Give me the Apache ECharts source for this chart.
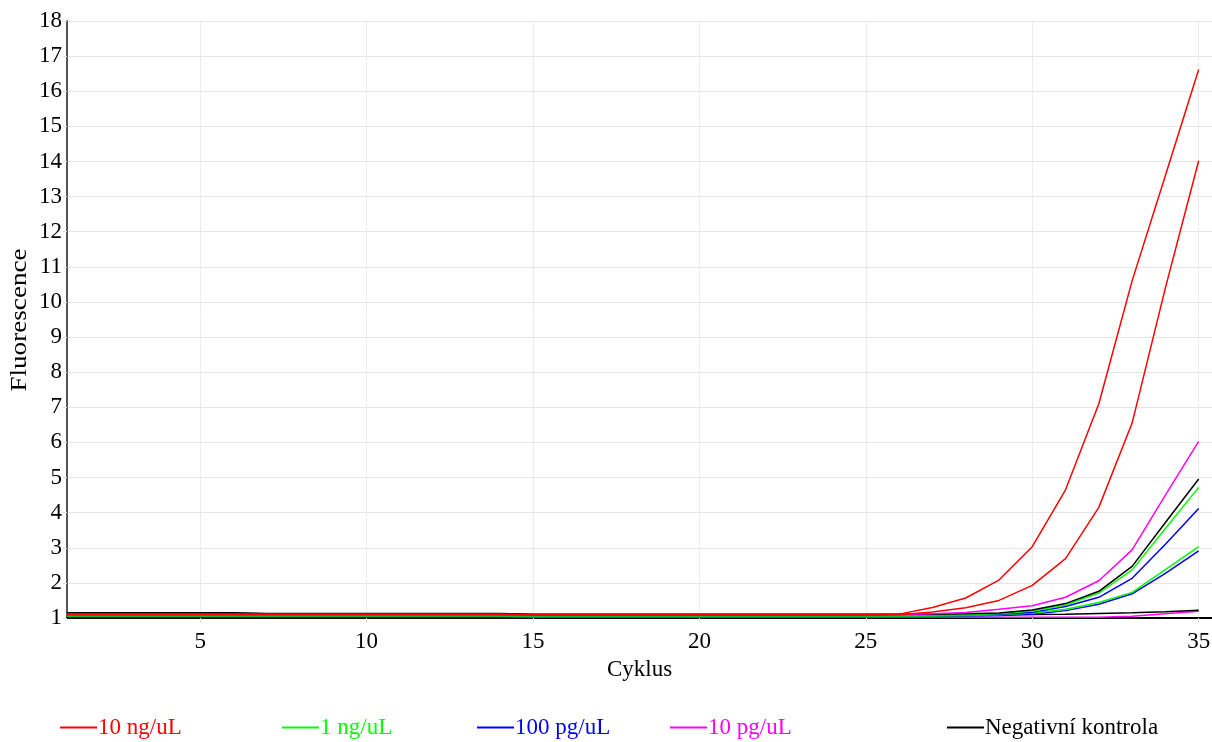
<!DOCTYPE html>
<html>
<head>
<meta charset="utf-8">
<script src="https://cdn.jsdelivr.net/npm/echarts@6/dist/echarts.min.js"></script>
<style>
  html, body { margin: 0; padding: 0; background: #fff; }
  #chart { width: 1212px; height: 742px; }
</style>
</head>
<body>
<div id="chart"></div>
<script>
// qPCR amplification curves: fluorescence per cycle, duplicate wells per sample
const cycles = [1,2,3,4,5,6,7,8,9,10,11,12,13,14,15,16,17,18,19,20,21,22,23,24,25,26,27,28,29,30,31,32,33,34,35];
const xTicks = [5, 10, 15, 20, 25, 30, 35];
const yTicks = [1,2,3,4,5,6,7,8,9,10,11,12,13,14,15,16,17,18];

const seriesNames = ['10 ng/uL', '1 ng/uL', '100 pg/uL', '10 pg/uL', 'Negativní kontrola'];
const seriesColors = ['#ff0000', '#00ff00', '#0000ff', '#ff00ff', '#000000'];

// 10 ng/uL
const red1 = [1.10,1.10,1.10,1.10,1.10,1.10,1.10,1.10,1.10,1.10,1.10,1.10,1.10,1.10,1.09,1.09,1.09,1.09,1.09,1.09,1.09,1.09,1.09,1.09,1.09,1.11,1.30,1.57,2.08,3.03,4.65,7.10,10.60,13.60,16.62];
const red2 = [1.09,1.09,1.09,1.09,1.09,1.09,1.09,1.09,1.09,1.09,1.09,1.09,1.09,1.09,1.08,1.08,1.08,1.08,1.08,1.08,1.08,1.08,1.08,1.08,1.08,1.09,1.17,1.29,1.50,1.93,2.69,4.15,6.55,10.40,14.02];
// 1 ng/uL
const green1 = [1.10,1.10,1.10,1.10,1.10,1.10,1.10,1.10,1.10,1.10,1.10,1.10,1.10,1.10,1.09,1.09,1.09,1.09,1.09,1.09,1.09,1.09,1.09,1.09,1.09,1.09,1.09,1.10,1.12,1.20,1.37,1.71,2.37,3.55,4.72];
const green2 = [1.06,1.06,1.06,1.06,1.06,1.06,1.06,1.06,1.06,1.06,1.06,1.06,1.06,1.06,1.06,1.06,1.06,1.06,1.06,1.06,1.06,1.06,1.06,1.06,1.06,1.06,1.06,1.07,1.09,1.14,1.25,1.44,1.73,2.38,3.03];
// 100 pg/uL
const blue1 = [1.14,1.14,1.14,1.14,1.14,1.13,1.12,1.12,1.12,1.12,1.12,1.12,1.12,1.12,1.10,1.10,1.10,1.10,1.10,1.10,1.10,1.10,1.10,1.10,1.10,1.10,1.10,1.10,1.11,1.16,1.33,1.59,2.13,3.10,4.12];
const blue2 = [1.05,1.05,1.05,1.05,1.05,1.05,1.05,1.05,1.05,1.05,1.05,1.05,1.05,1.05,1.05,1.05,1.05,1.05,1.05,1.05,1.05,1.05,1.05,1.05,1.05,1.05,1.05,1.06,1.07,1.11,1.21,1.39,1.69,2.27,2.91];
// 10 pg/uL
const magenta1 = [1.11,1.11,1.11,1.11,1.11,1.11,1.11,1.11,1.11,1.11,1.11,1.11,1.11,1.11,1.09,1.09,1.09,1.09,1.09,1.09,1.09,1.09,1.09,1.09,1.09,1.10,1.12,1.16,1.25,1.35,1.59,2.06,2.94,4.50,6.03];
const magenta2 = [1.04,1.04,1.04,1.04,1.04,1.04,1.04,1.04,1.04,1.04,1.04,1.04,1.04,1.04,1.03,1.03,1.03,1.03,1.03,1.03,1.03,1.03,1.03,1.03,1.03,1.03,1.03,1.02,1.02,1.02,1.02,1.02,1.05,1.12,1.19];
// Negativní kontrola
const black1 = [1.15,1.15,1.15,1.15,1.15,1.15,1.13,1.13,1.13,1.13,1.13,1.13,1.13,1.13,1.11,1.11,1.11,1.11,1.11,1.11,1.11,1.11,1.11,1.11,1.11,1.11,1.11,1.12,1.14,1.23,1.41,1.76,2.47,3.72,4.96];
const black2 = [1.07,1.07,1.07,1.07,1.07,1.07,1.07,1.07,1.07,1.07,1.07,1.07,1.07,1.07,1.07,1.07,1.07,1.07,1.07,1.07,1.07,1.07,1.07,1.07,1.07,1.07,1.08,1.08,1.09,1.10,1.11,1.13,1.15,1.18,1.22];

const curves = [
  { group: 3, values: magenta2 },
  { group: 4, values: black2 },
  { group: 2, values: blue2 },
  { group: 1, values: green2 },
  { group: 2, values: blue1 },
  { group: 1, values: green1 },
  { group: 4, values: black1 },
  { group: 3, values: magenta1 },
  { group: 0, values: red2 },
  { group: 0, values: red1 }
];

const FONT = '"Liberation Serif", "DejaVu Serif", serif';
const FS = 23;
const chart = echarts.init(document.getElementById('chart'), null, { renderer: 'canvas' });

const legendLefts = [60, 282, 477, 670, 947];
const legends = seriesNames.map((name, i) => ({
  data: [name],
  left: legendLefts[i],
  top: 716,
  padding: 0,
  icon: 'rect',
  itemWidth: 37,
  itemHeight: 2,
  selectedMode: false,
  textStyle: {
    fontFamily: FONT,
    fontSize: FS,
    color: seriesColors[i],
    padding: [0, 0, 0, -4]
  }
}));

chart.setOption({
  animation: false,
  backgroundColor: '#ffffff',
  grid: { left: 67, right: 0, top: 21, bottom: 124, containLabel: false, outerBoundsMode: 'none' },
  legend: legends,
  graphic: [{
    type: 'text',
    x: 20,
    y: 320,
    rotation: Math.PI / 2,
    scaleX: 1.18,
    style: {
      text: 'Fluorescence',
      fontFamily: FONT,
      fontSize: FS,
      fill: '#000',
      align: 'center',
      verticalAlign: 'middle'
    }
  }],
  xAxis: {
    type: 'value',
    min: 1,
    max: 35.4,
    name: 'Cyklus',
    nameLocation: 'middle',
    nameGap: 40,
    nameTextStyle: { fontFamily: FONT, fontSize: FS, color: '#000' },
    axisLine: { show: true, onZero: false, lineStyle: { color: '#000', width: 2 } },
    axisTick: { show: true, customValues: xTicks, length: 4, lineStyle: { color: '#dddddd' } },
    axisLabel: { customValues: xTicks, fontFamily: FONT, fontSize: FS, color: '#000', margin: 12 },
    splitLine: { show: true, lineStyle: { color: '#ececec', width: 1 } }
  },
  yAxis: {
    type: 'value',
    min: 1,
    max: 18,
    interval: 1,
    axisLine: { show: true, lineStyle: { color: '#555555', width: 2 } },
    axisTick: { show: true, length: 4, lineStyle: { color: '#dddddd' } },
    axisLabel: { fontFamily: FONT, fontSize: FS, color: '#000', margin: 5 },
    splitLine: { show: true, lineStyle: { color: '#e6e6e6', width: 1 } }
  },
  series: curves.map(c => ({
    name: seriesNames[c.group],
    type: 'line',
    data: cycles.map((x, i) => [x, c.values[i]]),
    showSymbol: false,
    symbol: 'none',
    color: seriesColors[c.group],
    lineStyle: { color: seriesColors[c.group], width: 1.5 },
    emphasis: { disabled: true }
  }))
});
</script>
</body>
</html>
